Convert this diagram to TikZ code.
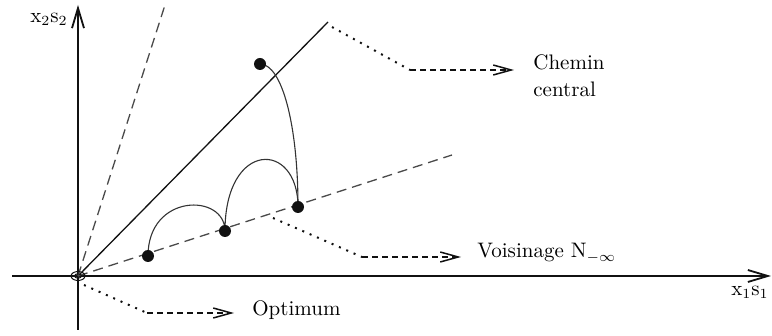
\documentclass[tikz,border=0pt]{standalone}
\usepackage{xcolor}
\usepackage{tikz}
\usetikzlibrary{positioning, arrows.meta}
\definecolor{ink}{HTML}{111111}
\definecolor{raygrey}{HTML}{4A4A4A}
\definecolor{curvegrey}{HTML}{333333}

\begin{document}
\begin{tikzpicture}[x=0.5pt, y=-0.5pt,
    axis/.style={ink, line width=0.9pt, -{Straight Barb[length=10pt, width=6pt]}},
    ray/.style={raygrey, line width=0.65pt, dash pattern=on 5pt off 3pt},
    pathline/.style={ink, line width=0.65pt},
    hop/.style={curvegrey, line width=0.55pt},
    pt/.style={circle, fill=ink, inner sep=0pt, minimum size=6pt},
    lbl/.style={font=\fontsize{10.5}{13}\selectfont, inner sep=0pt},
    lead/.style={ink, line width=1pt, dash pattern=on 1pt off 3pt},
    leadend/.style={ink, line width=0.75pt, dash pattern=on 3pt off 2pt,
      -{Straight Barb[length=9pt, width=5pt]}}]
  \useasboundingbox (0,0) rectangle (772,336);
  \coordinate (O) at (78,276);
  \coordinate (xl) at (12,276);
  \coordinate (xr) at (771,276);
  \coordinate (yb) at (78,330);
  \coordinate (yt) at (78,5);
  \coordinate (cpend) at (328,22);
  \coordinate (steep) at (165,5);
  \coordinate (nbend) at (452,155);
  \foreach \n/\px/\py in {q0/260/64, q1/148/256, q2/225/231, q3/298/207}
    \coordinate (\n) at (\px,\py);

  \draw[axis] (xl) -- (xr);
  \draw[axis] (yb) -- (yt);
  \node[lbl] (xaxis) at (750,292) {x$_1$s$_1$};
  \node[lbl] (yaxis) at (49,19) {x$_2$s$_2$};

  \draw[pathline] (O) -- (cpend);
  \draw[ray] (O) -- (steep);
  \draw[ray] (O) -- (nbend);

  \draw[hop] (q1) .. controls (148,193) and (225,193) .. (q2)
    .. controls (225,140) and (298,140) .. (q3);
  \draw[hop] (q0) .. controls (282,64) and (298,125) .. (q3);
  \foreach \n in {q0, q1, q2, q3}
    \node[pt] (dot\n) at (\n) {};

  \draw[ink, line width=0.5pt] (O) ellipse (7 and 4.5);
  \draw[ink, line width=0.5pt] (O) ellipse (3.5 and 2.2);

  \node[lbl, anchor=base west] (chemin) at (533,70) {Chemin};
  \node[lbl, anchor=base west] (central) at (533,97) {central};
  \node[lbl, anchor=base west] (voisin) at (477,258) {Voisinage N$_{-\infty}$};
  \node[lbl, anchor=base west] (optimum) at (252,316) {Optimum};

  \coordinate (c1) at (332,27);
  \coordinate (c2) at (410,70);
  \coordinate (c3) at (514,70);
  \draw[lead] (c1) -- (c2);
  \draw[leadend] (c2) -- (c3);

  \coordinate (v1) at (273,218);
  \coordinate (v2) at (362,257);
  \coordinate (v3) at (461,257);
  \draw[lead] (v1) -- (v2);
  \draw[leadend] (v2) -- (v3);

  \coordinate (o1) at (84,285);
  \coordinate (o2) at (147,313);
  \coordinate (o3) at (234,313);
  \draw[lead] (o1) -- (o2);
  \draw[leadend] (o2) -- (o3);
\end{tikzpicture}
\end{document}
